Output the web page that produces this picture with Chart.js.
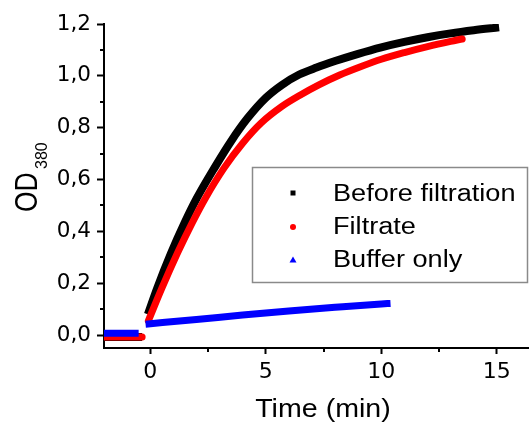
<!DOCTYPE html>
<html>
<head>
<meta charset="utf-8">
<script src="https://cdn.jsdelivr.net/npm/chart.js@4.4.0/dist/chart.umd.min.js"></script>
<style>
  html, body { margin: 0; padding: 0; background: #ffffff; }
  #wrap { width: 530px; height: 423px; position: relative; }
  canvas { display: block; }
</style>
</head>
<body>
<div id="wrap"><canvas id="c" width="530" height="423"></canvas></div>
<script>
// ---- data ----
const SERIES_LABELS = ['Before filtration', 'Filtrate', 'Buffer only'];

const beforeTime = [-2.0, -1.0, -0.35, -0.2, -0.1, 0.3, 0.9, 1.5, 2.0, 2.8, 3.5, 4.2, 5.0, 5.7, 6.45, 7.2, 8.0, 9.0, 10.0, 11.0, 12.0, 13.0, 14.0, 15.1];
const beforeOD   = [-0.008, -0.008, -0.008, null, 0.08, 0.18, 0.315, 0.435, 0.525, 0.648, 0.748, 0.835, 0.915, 0.965, 1.005, 1.032, 1.057, 1.085, 1.11, 1.131, 1.149, 1.164, 1.176, 1.187];

const filtrateTime = [-2.0, -1.0, -0.35, -0.2, -0.08, 0.5, 1.2, 1.8, 2.4, 3.2, 4.0, 4.8, 5.7, 6.5, 7.3, 8.2, 9.1, 10.0, 11.0, 12.0, 13.0, 13.5];
const filtrateOD   = [-0.008, -0.008, -0.008, null, 0.055, 0.18, 0.32, 0.43, 0.53, 0.645, 0.74, 0.818, 0.882, 0.926, 0.965, 1.003, 1.035, 1.064, 1.09, 1.113, 1.133, 1.142];

const bufferTime = [-2.0, -1.0, -0.5, -0.3, -0.2, 2.0, 4.0, 6.0, 8.0, 10.0, 10.4];
const bufferOD   = [0.007, 0.007, 0.007, null, 0.042, 0.06, 0.077, 0.093, 0.107, 0.12, 0.122];

const X_TICKS = [0, 5, 10, 15];
const X_MINOR = [2.5, 7.5, 12.5];
const Y_TICKS = [0, 0.2, 0.4, 0.6, 0.8, 1.0, 1.2];
const Y_MINOR = [0.1, 0.3, 0.5, 0.7, 0.9, 1.1];

const X_TITLE = 'Time (min)';
const Y_TITLE_MAIN = 'OD';
const Y_TITLE_SUB = '380';

// ---- build chart ----
const toPoints = (xs, ys) => xs.map((t, i) => ({ x: t, y: ys[i] }));
const COLORS = ['#000000', '#ff0000', '#0000ff'];

const decor = {
  id: 'decor',
  afterDraw(chart) {
    const { ctx, chartArea } = chart;
    const xs = chart.scales.x, ys = chart.scales.y;
    ctx.save();
    // minor ticks
    ctx.strokeStyle = '#000';
    ctx.lineWidth = 2;
    X_MINOR.forEach(v => {
      const px = Math.round(xs.getPixelForValue(v));
      ctx.beginPath(); ctx.moveTo(px, chartArea.bottom); ctx.lineTo(px, chartArea.bottom + 4); ctx.stroke();
    });
    Y_MINOR.forEach(v => {
      const py = Math.round(ys.getPixelForValue(v));
      ctx.beginPath(); ctx.moveTo(chartArea.left, py); ctx.lineTo(chartArea.left - 4, py); ctx.stroke();
    });

    // legend box
    ctx.strokeStyle = '#8a8a8a';
    ctx.lineWidth = 1.5;
    ctx.strokeRect(252.5, 167.5, 275, 115);
    const rowBase = [201, 234, 267];
    const rowMid = [193, 227, 260];
    const mx = 293;
    // markers
    ctx.fillStyle = COLORS[0];
    ctx.fillRect(mx - 2.5, rowMid[0] - 2.5, 5, 5);
    ctx.fillStyle = COLORS[1];
    ctx.beginPath(); ctx.arc(mx, rowMid[1], 3, 0, Math.PI * 2); ctx.fill();
    ctx.fillStyle = COLORS[2];
    ctx.beginPath();
    ctx.moveTo(mx, rowMid[2] - 3.5); ctx.lineTo(mx - 3.5, rowMid[2] + 2.5); ctx.lineTo(mx + 3.5, rowMid[2] + 2.5);
    ctx.closePath(); ctx.fill();
    // labels
    ctx.fillStyle = '#000';
    ctx.textBaseline = 'alphabetic';
    ctx.textAlign = 'left';
    ctx.font = '23px "Liberation Sans", Arial, sans-serif';
    chart.data.datasets.forEach((ds, i) => {
      ctx.save();
      ctx.translate(333, rowBase[i]);
      ctx.scale(1.18, 1);
      ctx.fillText(ds.label, 0, 0);
      ctx.restore();
    });

    // x title
    ctx.save();
    ctx.font = '26px "Liberation Sans", Arial, sans-serif';
    ctx.textAlign = 'center';
    ctx.translate(323, 417);
    ctx.scale(1.1, 1);
    ctx.fillText(X_TITLE, 0, 0);
    ctx.restore();

    // y title (rotated, with subscript)
    ctx.save();
    ctx.translate(37, 212);
    ctx.scale(1.2, 1);
    ctx.rotate(-Math.PI / 2);
    ctx.font = '26.5px "Liberation Sans", Arial, sans-serif';
    ctx.textAlign = 'left';
    ctx.fillText(Y_TITLE_MAIN, 0, 0);
    ctx.restore();
    ctx.save();
    ctx.translate(47, 169);
    ctx.rotate(-Math.PI / 2);
    ctx.font = '16px "Liberation Sans", Arial, sans-serif';
    ctx.textAlign = 'left';
    ctx.fillText(Y_TITLE_SUB, 0, 0);
    ctx.restore();

    ctx.restore();
  }
};

new Chart(document.getElementById('c'), {
  type: 'scatter',
  data: {
    datasets: [
      { label: SERIES_LABELS[0], data: toPoints(beforeTime, beforeOD), borderColor: COLORS[0], backgroundColor: COLORS[0],
        showLine: true, borderWidth: 8, pointRadius: 0, cubicInterpolationMode: 'monotone', borderCapStyle: 'butt', borderJoinStyle: 'round', order: 3 },
      { label: SERIES_LABELS[1], data: toPoints(filtrateTime, filtrateOD), borderColor: COLORS[1], backgroundColor: COLORS[1],
        showLine: true, borderWidth: 7, pointRadius: 0, cubicInterpolationMode: 'monotone', borderCapStyle: 'round', borderJoinStyle: 'round', order: 2 },
      { label: SERIES_LABELS[2], data: toPoints(bufferTime, bufferOD), borderColor: COLORS[2], backgroundColor: COLORS[2],
        showLine: true, borderWidth: 7, pointRadius: 0, cubicInterpolationMode: 'monotone', borderCapStyle: 'butt', borderJoinStyle: 'round', order: 1 }
    ]
  },
  options: {
    responsive: false,
    animation: false,
    devicePixelRatio: 1,
    spanGaps: false,
    layout: { padding: { top: 24, right: 2, left: 0, bottom: 0 } },
    plugins: { legend: { display: false }, tooltip: { enabled: false }, title: { display: false } },
    scales: {
      x: {
        type: 'linear', min: -2, max: 16.35,
        afterBuildTicks: s => { s.ticks = X_TICKS.map(v => ({ value: v })); },
        afterFit: s => { s.height = 75; },
        ticks: { color: '#000', font: { family: 'DejaVu Sans', size: 22 }, padding: 5, maxRotation: 0, autoSkip: false,
                 callback: v => String(v) },
        grid: { display: true, drawOnChartArea: false, drawTicks: true, tickLength: 6, tickWidth: 2, tickColor: '#000' },
        border: { display: true, color: '#000', width: 2 }
      },
      y: {
        type: 'linear', min: -0.05, max: 1.2,
        afterBuildTicks: s => { s.ticks = Y_TICKS.map(v => ({ value: v })); },
        afterFit: s => { s.width = 104; },
        ticks: { color: '#000', font: { family: 'DejaVu Sans', size: 21.5 }, padding: 6, autoSkip: false,
                 callback: v => Number(v).toFixed(1).replace('.', ',') },
        grid: { display: true, drawOnChartArea: false, drawTicks: true, tickLength: 7, tickWidth: 2, tickColor: '#000' },
        border: { display: true, color: '#000', width: 2 }
      }
    }
  },
  plugins: [decor]
});
</script>
</body>
</html>
